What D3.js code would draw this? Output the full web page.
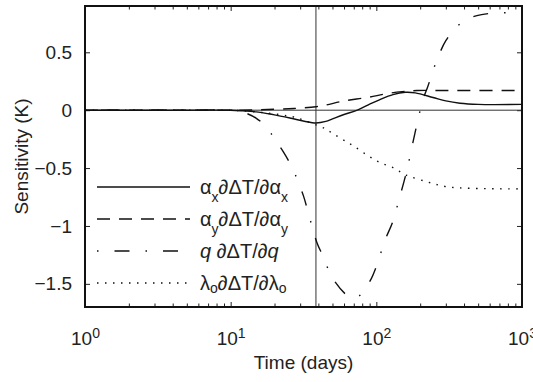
<!DOCTYPE html>
<html>
<head>
<meta charset="utf-8">
<script src="https://cdn.jsdelivr.net/npm/d3@7"></script>
<style>
  body { margin: 0; background: #fff; }
  text { font-family: "Liberation Sans", Arial, sans-serif; fill: #222; }
</style>
</head>
<body>
<div id="chart"></div>
<script>
// Sensitivity curves (time in days, values in K)
const alphaXDays = [1, 5, 10, 12, 15, 18, 20, 26, 32, 38.5, 45, 50, 60, 74, 90, 105, 130, 158, 185, 245, 300, 375, 500, 1000];
const alphaXVals = [0, 0, 0, -0.005, -0.015, -0.03, -0.04, -0.07, -0.095, -0.11, -0.097, -0.075, -0.037, 0, 0.052, 0.09, 0.135, 0.155, 0.15, 0.11, 0.08, 0.06, 0.05, 0.05];

const alphaYDays = [1, 5, 10, 15, 20, 25, 30, 38.5, 45, 60, 87, 117, 150, 190, 300, 1000];
const alphaYVals = [0, 0, 0, 0.003, 0.008, 0.012, 0.018, 0.03, 0.045, 0.08, 0.11, 0.142, 0.16, 0.17, 0.17, 0.17];

const qDays = [1, 5, 10, 12, 15, 18, 20, 23, 26.5, 31.6, 34, 39, 43, 50, 63, 69, 77, 91, 100, 115, 129, 144, 162, 184, 209, 225, 258, 300, 357, 425, 528, 675, 1000];
const qVals = [0, 0, 0, -0.015, -0.07, -0.16, -0.25, -0.36, -0.5, -0.74, -0.88, -1.14, -1.26, -1.45, -1.6, -1.62, -1.6, -1.47, -1.35, -1.12, -0.97, -0.76, -0.52, -0.2, 0.09, 0.2, 0.42, 0.6, 0.72, 0.79, 0.825, 0.84, 0.84];

const lambdaDays = [1, 5, 10, 12, 16.4, 21, 24.5, 27.6, 31.5, 39, 44.5, 50, 60, 70, 87, 105, 132, 160, 225, 300, 450, 1000];
const lambdaVals = [0, 0, 0, -0.005, -0.02, -0.035, -0.05, -0.06, -0.085, -0.13, -0.16, -0.2, -0.26, -0.31, -0.39, -0.45, -0.5, -0.56, -0.62, -0.66, -0.675, -0.68];

const markerDay = 38.5;
const xTickValues = [1, 10, 100, 1000];
const yTickValues = [-1.5, -1, -0.5, 0, 0.5];

// Display options
const width = 533;
const height = 382;
const margin = { top: 6, right: 11, bottom: 75, left: 85 };
const fontSize = 19;
const legendFontSize = 20;

const series = [
  { days: alphaXDays, vals: alphaXVals, dash: null,
    label: [["α", 0], ["x", 8], ["∂ΔT/∂α", -8], ["x", 8]] },
  { days: alphaYDays, vals: alphaYVals, dash: "13,9",
    label: [["α", 0], ["y", 8], ["∂ΔT/∂α", -8], ["y", 8]] },
  { days: qDays, vals: qVals, dash: "1.5,16,15,16",
    label: [["q", 0, true], [" ∂ΔT/∂", 0], ["q", 0, true]] },
  { days: lambdaDays, vals: lambdaVals, dash: "1.5,6.5",
    label: [["λ", 0], ["o", 3], ["∂ΔT/∂λ", -3], ["o", 3]] },
];

const svg = d3.select("#chart").append("svg")
  .attr("width", width)
  .attr("height", height);

const x = d3.scaleLog()
  .domain([1, 1000])
  .range([margin.left, width - margin.right]);
const y = d3.scaleLinear()
  .domain([-1.7, 0.9])
  .range([height - margin.bottom, margin.top]);

const minorTicks = x.ticks().filter((t) => !xTickValues.includes(t));

// Ticks point inwards on all four sides
const addTicks = (axis, transform) =>
  svg.append("g")
    .attr("transform", transform)
    .call(axis)
    .call((g) => g.select(".domain").remove())
    .call((g) => g.selectAll("line").attr("stroke", "#222"));

addTicks(d3.axisBottom(x).tickValues(minorTicks).tickSize(-3.5).tickFormat(""),
  `translate(0,${height - margin.bottom})`);
addTicks(d3.axisTop(x).tickValues(minorTicks).tickSize(-3.5).tickFormat(""),
  `translate(0,${margin.top})`);
addTicks(d3.axisTop(x).tickValues(xTickValues).tickSize(-5).tickFormat(""),
  `translate(0,${margin.top})`);
addTicks(d3.axisRight(y).tickValues(yTickValues).tickSize(-5).tickFormat(""),
  `translate(${width - margin.right},0)`);

// Bottom axis with 10^n labels
const xAxisG = addTicks(
  d3.axisBottom(x).tickValues(xTickValues).tickSize(-5).tickPadding(25),
  `translate(0,${height - margin.bottom})`
);
xAxisG.selectAll("text")
  .attr("font-size", fontSize)
  .attr("font-family", null)
  .each(function (d) {
    const t = d3.select(this).text("10");
    t.append("tspan")
      .attr("dy", "-0.55em")
      .attr("font-size", 14)
      .text(Math.round(Math.log10(d)));
  });

// Left axis
const yAxisG = addTicks(
  d3.axisLeft(y).tickValues(yTickValues).tickSize(-5).tickPadding(13)
    .tickFormat((d) => d3.format("")(d).replace("-", "−")),
  `translate(${margin.left},0)`
);
yAxisG.selectAll("text").attr("font-size", fontSize).attr("font-family", null);

// Reference lines
svg.append("line")
  .attr("x1", margin.left).attr("x2", width - margin.right)
  .attr("y1", y(0)).attr("y2", y(0))
  .attr("stroke", "#333").attr("stroke-width", 1);
svg.append("line")
  .attr("x1", x(markerDay)).attr("x2", x(markerDay))
  .attr("y1", margin.top).attr("y2", height - margin.bottom)
  .attr("stroke", "#333").attr("stroke-width", 1);

// Curves
const line = d3.line()
  .x((d) => x(d[0]))
  .y((d) => y(d[1]))
  .curve(d3.curveCatmullRom.alpha(0.5));

series.forEach((s) => {
  svg.append("path")
    .datum(d3.zip(s.days, s.vals))
    .attr("d", line)
    .attr("fill", "none")
    .attr("stroke", "#111")
    .attr("stroke-width", 1.4)
    .attr("stroke-dasharray", s.dash);
});

// Axes box
svg.append("rect")
  .attr("x", margin.left).attr("y", margin.top)
  .attr("width", width - margin.left - margin.right)
  .attr("height", height - margin.top - margin.bottom)
  .attr("fill", "none")
  .attr("stroke", "#111")
  .attr("stroke-width", 2);

// Legend (no frame)
const legend = svg.append("g");
series.forEach((s, i) => {
  const rowY = 187 + i * 32;
  legend.append("line")
    .attr("x1", 97).attr("x2", 190)
    .attr("y1", rowY).attr("y2", rowY)
    .attr("stroke", "#111")
    .attr("stroke-width", 1.4)
    .attr("stroke-dasharray", s.dash);
  const text = legend.append("text")
    .attr("x", 200)
    .attr("y", rowY + 6.5)
    .attr("font-size", legendFontSize);
  s.label.forEach(([str, dy, italic]) => {
    const sub = str.length === 1 && dy > 0;
    text.append("tspan")
      .attr("dy", dy)
      .attr("font-size", sub ? 14 : legendFontSize)
      .attr("font-style", italic ? "italic" : null)
      .text(str);
  });
});

// Axis titles
svg.append("text")
  .attr("x", (margin.left + width - margin.right) / 2)
  .attr("y", 369)
  .attr("text-anchor", "middle")
  .attr("font-size", fontSize)
  .text("Time (days)");
svg.append("text")
  .attr("transform", `translate(28,${(margin.top + height - margin.bottom) / 2}) rotate(-90)`)
  .attr("text-anchor", "middle")
  .attr("font-size", fontSize)
  .text("Sensitivity (K)");
</script>
</body>
</html>
